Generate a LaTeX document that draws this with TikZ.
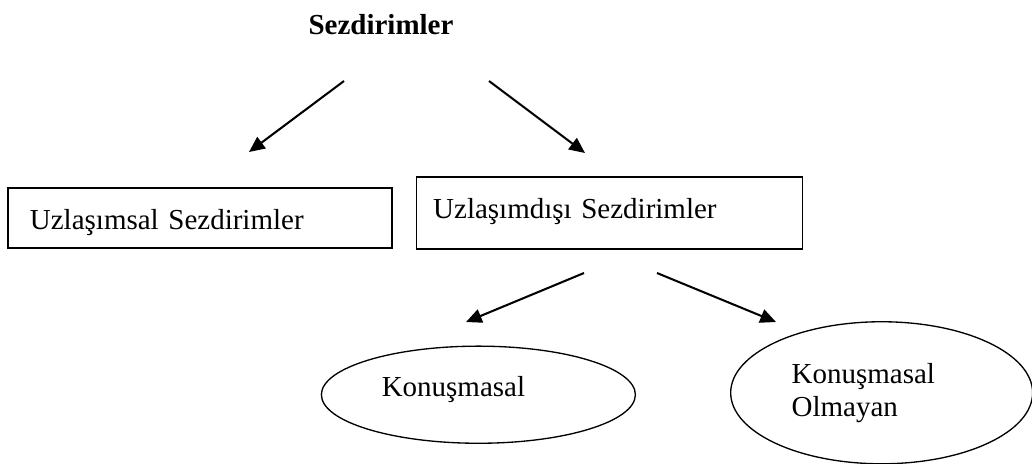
\documentclass[tikz,border=0pt]{standalone}
\usepackage{fontspec}
\setmainfont{Liberation Serif}
\usetikzlibrary{arrows.meta,positioning,shapes.geometric}

\tikzset{
  txt/.style = {font=\fontsize{12}{13.7}\selectfont},
  box/.style = {txt, draw, rectangle, line width=0.55pt, align=left},
  oval/.style = {txt, draw, ellipse, line width=0.55pt, align=left, inner sep=0pt},
  arr/.style = {-{Triangle[length=6.5pt,width=5.8pt]}, line width=0.85pt}
}

\begin{document}
\begin{tikzpicture}[x=0.414pt, y=-0.414pt]
  \useasboundingbox (0,0) rectangle (1032,463);

  % Define nodes
  \node[txt, font=\fontsize{12}{13.7}\selectfont\bfseries, anchor=base] (sez) at (381,34) {Sezdirimler};

 % Boxes
	\node[box, minimum width=159pt, minimum height=24.8pt, inner xsep=9.1pt, text width=140.8pt,
	      text height=10pt, text depth=0.9pt] (uzlas) at (200,218) {Uzlaşımsal Sezdirimler};
	\node[box, right=9.5pt of uzlas, yshift=2.1pt, minimum width=159.8pt, minimum height=29.8pt,
	      inner xsep=7pt, text width=145.8pt, text height=8pt, text depth=3pt] (uzlasdis) {Uzlaşımdışı Sezdirimler};

% Ovals
	\node[oval, below=39.7pt of uzlasdis, xshift=-54.2pt, minimum width=130pt, minimum height=40.2pt,
	      text width=80pt, text height=6pt, text depth=4.3pt] (konus) {Konuşmasal};
	\node[oval, right=38.9pt of konus, yshift=0.8pt, minimum width=125pt, minimum height=58.8pt,
	      text width=74.5pt] (olmayan) {Konuşmasal\\Olmayan};

% Arrow ends
	\coordinate (a1) at (344,81);  \coordinate (b1) at (249,152);
	\coordinate (a2) at (489,81);  \coordinate (b2) at (585,153);
	\coordinate (a3) at (584,273); \coordinate (b3) at (466,322);
	\coordinate (a4) at (657,273); \coordinate (b4) at (776,322);

  % Arrows
	\draw[arr] (a1) -- (b1);
	\draw[arr] (a2) -- (b2);
	\draw[arr] (a3) -- (b3);
	\draw[arr] (a4) -- (b4);

\end{tikzpicture}
\end{document}
